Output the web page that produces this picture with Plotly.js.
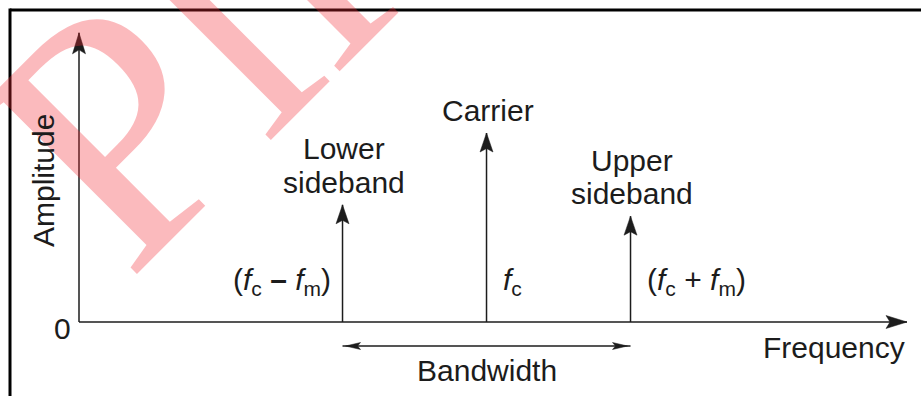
<!DOCTYPE html>
<html><head><meta charset="utf-8">
<script src="https://cdn.plot.ly/plotly-3.0.1.min.js"></script>
<style>html,body{margin:0;padding:0;background:#fff;overflow:hidden;} #chart{width:921px;height:396px;}</style>
</head><body><div id="chart"></div>
<script>
// ---------------- data ----------------
const fm = 1;                 // modulating frequency (unit)
const fc = 2.83;              // carrier frequency (in units of fm)
const componentNames = ['Lower<br>sideband', 'Carrier', 'Upper<br>sideband'];
const componentFreqs = [fc - fm, fc, fc + fm];
const componentAmps = [0.62, 1.0, 0.56];
const freqLabels = ['(<i>f</i><sub>c</sub> <b>\u2013</b> <i>f</i><sub>m</sub>)', '<i>f</i><sub>c</sub>', '(<i>f</i><sub>c</sub> + <i>f</i><sub>m</sub>)'];
const xAxisTitle = 'Frequency';
const yAxisTitle = 'Amplitude';
const zeroLabel = '0';
const bandwidthLabel = 'Bandwidth';
const watermarkText = 'Pll';
const xAxisEnd = 5.75;
const yAxisEnd = 1.53;

// ---------------- layout geometry ----------------
const W = 921, H = 396, OX = 79, OY = 322, SX = 144, SY = 189;
const ink = '#1c1c1c';
const FONT = 'Liberation Sans, Arial, Helvetica, sans-serif';
const FS = 30;

// lines (axes + spectral components)
const lx = [0, xAxisEnd, null, 0, 0, null];
const ly = [0, 0, null, 0, yAxisEnd, null];
componentFreqs.forEach((f, i) => { lx.push(f, f, null); ly.push(0, componentAmps[i], null); });

const traces = [{
  type: 'scatter', mode: 'lines', x: lx, y: ly,
  line: {color: ink, width: 1.5}, hoverinfo: 'skip', showlegend: false
}];

function head(xa, ya, dir, len, hw, notch, inset) {
  inset = inset || 0;
  let p;
  if (dir === 'up') p = `M0,${-inset} L${-hw},${-inset - len} L0,${-inset - notch} L${hw},${-inset - len} Z`;
  else if (dir === 'right') p = `M${-inset},0 L${-inset - len},${hw} L${-inset - notch},0 L${-inset - len},${-hw} Z`;
  else p = `M${inset},0 L${inset + len},${hw} L${inset + notch},0 L${inset + len},${-hw} Z`;
  return {type: 'path', xref: 'x', yref: 'y', xsizemode: 'pixel', ysizemode: 'pixel',
          xanchor: xa, yanchor: ya, path: p, fillcolor: ink, line: {color: ink, width: 0.5}, layer: 'above'};
}

const shapes = [];
// frame
shapes.push({type: 'line', xref: 'paper', yref: 'paper', x0: 10 / W, x1: 1, y0: 1 - 10 / H, y1: 1 - 10 / H, line: {color: '#000', width: 3}});
shapes.push({type: 'line', xref: 'paper', yref: 'paper', x0: 10 / W, x1: 10 / W, y0: 1 - 8.5 / H, y1: 0, line: {color: '#000', width: 3}});
// axis arrowheads
shapes.push(head(0, yAxisEnd, 'up', 21, 6.5, 17));
shapes.push(head(xAxisEnd, 0, 'right', 21, 6.5, 17));
// component arrowheads
componentFreqs.forEach((f, i) => shapes.push(head(f, componentAmps[i], 'up', 19, 6.5, 15.5)));
// bandwidth double arrow
shapes.push({type: 'line', xref: 'x', yref: 'y', ysizemode: 'pixel', yanchor: 0,
  x0: componentFreqs[0], x1: componentFreqs[2], y0: -24, y1: -24, line: {color: ink, width: 1.4}});
function bwHead(xa, dir) {
  const s = dir === 'left' ? 1 : -1;
  const p = `M${3 * s},-24 L${18 * s},-20.5 L${15 * s},-24 L${18 * s},-27.5 Z`;
  return {type: 'path', xref: 'x', yref: 'y', xsizemode: 'pixel', ysizemode: 'pixel',
          xanchor: xa, yanchor: 0, path: p, fillcolor: ink, line: {color: ink, width: 0.5}};
}
shapes.push(bwHead(componentFreqs[0], 'left'));
shapes.push(bwHead(componentFreqs[2], 'right'));

const font = {family: FONT, size: FS, color: ink};
const annotations = [];
// watermark
annotations.push({xref: 'paper', yref: 'paper', x: 182 / W, y: 1 - 62 / H, xanchor: 'center', yanchor: 'middle',
  text: watermarkText, showarrow: false, textangle: -45,
  font: {family: 'Liberation Serif, Times New Roman, serif', size: 350, color: 'rgba(244,40,50,0.32)'}});

// component names
componentNames.forEach((name, i) => {
  const lines = name.split('<br>');
  lines.forEach((ln, j) => {
    annotations.push({x: componentFreqs[i], y: componentAmps[i], xref: 'x', yref: 'y',
      text: ln, showarrow: false, xanchor: 'center', yanchor: 'middle', xshift: 1,
      yshift: 22.5 + (lines.length - 1 - j) * 33.5, font: font});
  });
});
// frequency labels
annotations.push({x: componentFreqs[0], y: 0, text: freqLabels[0], showarrow: false, xanchor: 'right', yanchor: 'middle', xshift: -10, yshift: 41, font: font});
annotations.push({x: componentFreqs[1], y: 0, text: freqLabels[1], showarrow: false, xanchor: 'left', yanchor: 'middle', xshift: 14, yshift: 41, font: font});
annotations.push({x: componentFreqs[2], y: 0, text: freqLabels[2], showarrow: false, xanchor: 'left', yanchor: 'middle', xshift: 14, yshift: 41, font: font});
// axis labels
annotations.push({x: 0, y: 0, text: zeroLabel, showarrow: false, xanchor: 'center', yanchor: 'middle', xshift: -17, yshift: -6.5, font: font});
annotations.push({x: 0, y: 0, text: yAxisTitle, showarrow: false, xanchor: 'center', yanchor: 'middle', textangle: -90, xshift: -36, yshift: 141, font: font});
annotations.push({x: xAxisEnd, y: 0, text: xAxisTitle, showarrow: false, xanchor: 'center', yanchor: 'middle', xshift: -73, yshift: -25, font: font});
annotations.push({x: fc, y: 0, text: bandwidthLabel, showarrow: false, xanchor: 'center', yanchor: 'middle', xshift: 0.5, yshift: -48, font: font});

const layout = {
  width: W, height: H, margin: {l: 0, r: 0, t: 0, b: 0},
  paper_bgcolor: '#fff', plot_bgcolor: '#fff', showlegend: false,
  xaxis: {range: [-OX / SX, (W - OX) / SX], visible: false, fixedrange: true},
  yaxis: {range: [-(H - OY) / SY, OY / SY], visible: false, fixedrange: true},
  shapes: shapes, annotations: annotations
};
Plotly.newPlot('chart', traces, layout, {displayModeBar: false, staticPlot: true});
</script></body></html>
